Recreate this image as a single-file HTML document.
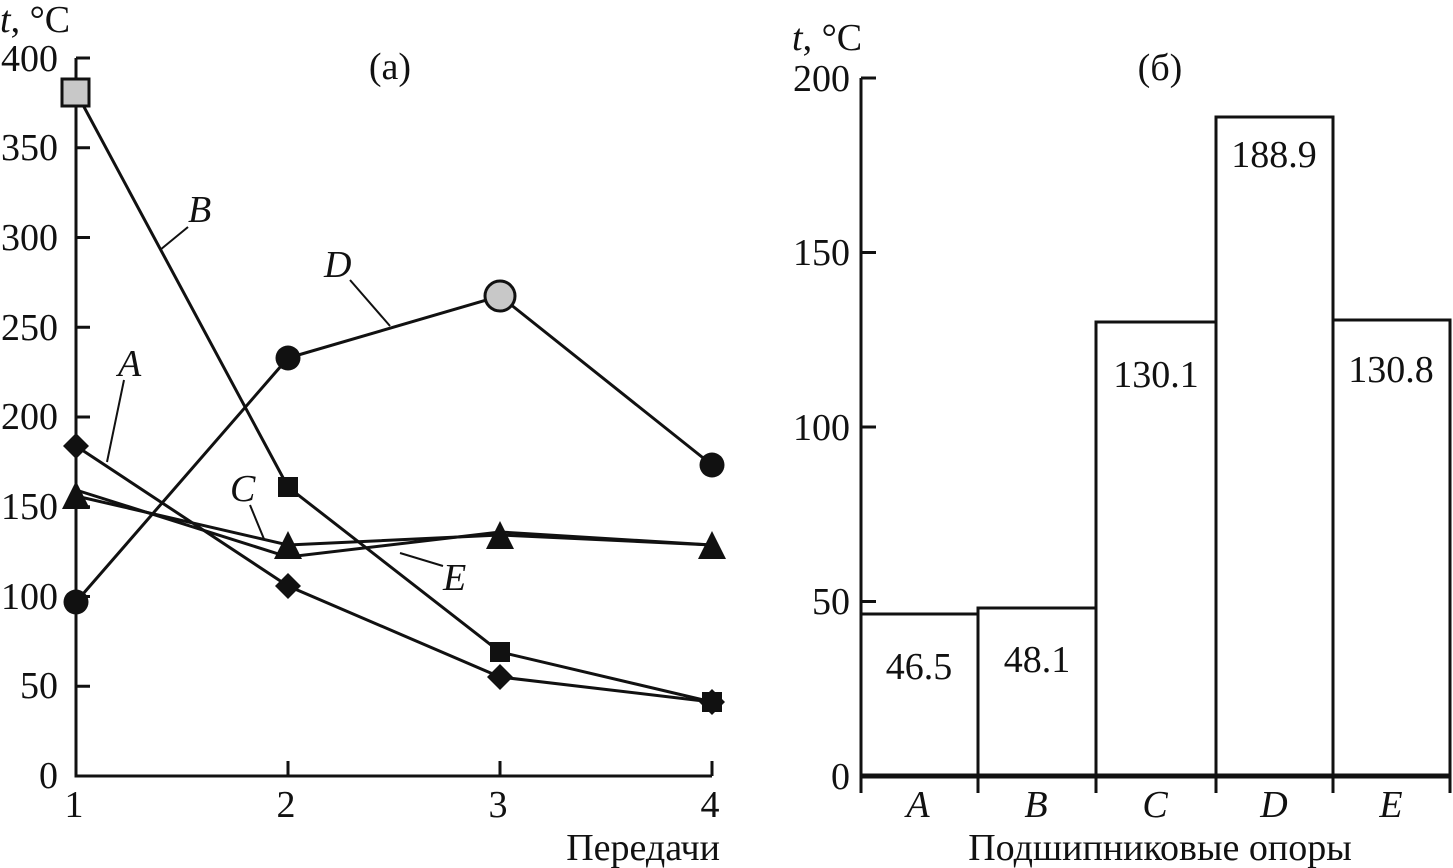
<!DOCTYPE html>
<html><head><meta charset="utf-8"><style>
html,body{margin:0;padding:0;background:#fff}
svg{display:block}
text{font-family:"Liberation Serif",serif;fill:#111}
.i{font-style:italic}
</style></head><body>
<svg width="1453" height="868" viewBox="0 0 1453 868" xmlns="http://www.w3.org/2000/svg">
<g stroke="#111" stroke-width="3" fill="none">
<path d="M76 58 H90 M76 58 V776 H712"/>
<path d="M76 147.7H90 M76 237.5H90 M76 327.2H90 M76 417H90 M76 506.7H90 M76 596.5H90 M76 686.2H90"/>
<path d="M288 776V761 M500 776V761 M712 776V761"/>
<polyline points="76,446 288,586 500,677 712,702"/>
<polyline points="76,92 288,487 500,652 712,702"/>
<polyline points="76,496 288,545 500,535 712,545"/>
<polyline points="76,490 288,557 500,532 712,545"/>
<polyline points="76,602 288,358 500,296 712,465"/>
<path d="M160 250L188 227 M350 280L390 326 M124 380L107 462 M250 505L264 539 M443 566L400 553" stroke-width="2"/>
</g>
<g fill="#111">
<polygon points="76,433 89,446 76,459 63,446"/>
<polygon points="288,573 301,586 288,599 275,586"/>
<polygon points="500,664 513,677 500,690 487,677"/>
<polygon points="712,689 725,702 712,715 699,702"/>
<rect x="278" y="477" width="20" height="20"/>
<rect x="490" y="642" width="20" height="20"/>
<rect x="702" y="692" width="20" height="20"/>
<polygon points="76,481 90,509 62,509"/>
<polygon points="288,531 302,559 274,559"/>
<polygon points="500,521 514,549 486,549"/>
<polygon points="712,531 726,559 698,559"/>
<circle cx="76" cy="602" r="12.5"/>
<circle cx="288" cy="358" r="12.5"/>
<circle cx="712" cy="465" r="12.5"/>
</g>
<rect x="62" y="79" width="27" height="27" fill="#c8c8c8" stroke="#111" stroke-width="3"/>
<circle cx="500" cy="296" r="15" fill="#c8c8c8" stroke="#111" stroke-width="3"/>
<g font-size="38">
<text x="0" y="32"><tspan class="i">t</tspan>, °C</text>
<g text-anchor="end">
<text x="58" y="71">400</text><text x="58" y="160">350</text><text x="58" y="250">300</text>
<text x="58" y="340">250</text><text x="58" y="429">200</text><text x="58" y="519">150</text>
<text x="58" y="609">100</text><text x="58" y="698">50</text><text x="58" y="788">0</text>
</g>
<g text-anchor="middle">
<text x="74" y="817">1</text><text x="286" y="817">2</text><text x="498" y="817">3</text><text x="710" y="817">4</text>
<text x="390" y="79">(a)</text>
</g>
<text x="720" y="860" text-anchor="end">Передачи</text>
<text class="i" x="188" y="222">B</text>
<text class="i" x="324" y="277">D</text>
<text class="i" x="118" y="376">A</text>
<text class="i" x="230" y="501">C</text>
<text class="i" x="443" y="590">E</text>
</g>
<g stroke="#111" stroke-width="3" fill="none">
<path d="M861 78H876 M861 78V793 M861 252.5H876 M861 427H876 M861 601.5H876"/>
<rect x="861" y="614" width="117" height="162"/>
<rect x="978" y="608" width="118" height="168"/>
<rect x="1096" y="322" width="120" height="454"/>
<rect x="1216" y="117" width="117" height="659"/>
<rect x="1333" y="320" width="117" height="456"/>
<path d="M861 776H1450" stroke-width="5"/>
<path d="M978 776V793 M1096 776V793 M1216 776V793 M1333 776V793 M1450 776V793"/>
</g>
<g font-size="38">
<text x="792" y="50"><tspan class="i">t</tspan>, °C</text>
<g text-anchor="end">
<text x="850" y="91">200</text><text x="850" y="265">150</text><text x="850" y="440">100</text>
<text x="850" y="614">50</text><text x="850" y="789">0</text>
</g>
<g text-anchor="middle">
<text x="1160" y="80">(б)</text>
<text x="919" y="679">46.5</text><text x="1037" y="672">48.1</text>
<text x="1156" y="387">130.1</text><text x="1274" y="167">188.9</text><text x="1391" y="382">130.8</text>
<text class="i" x="918" y="817">A</text><text class="i" x="1036" y="817">B</text>
<text class="i" x="1155" y="817">C</text><text class="i" x="1274" y="817">D</text><text class="i" x="1391" y="817">E</text>
<text x="1160" y="860">Подшипниковые опоры</text>
</g>
</g>
</svg>
</body></html>
